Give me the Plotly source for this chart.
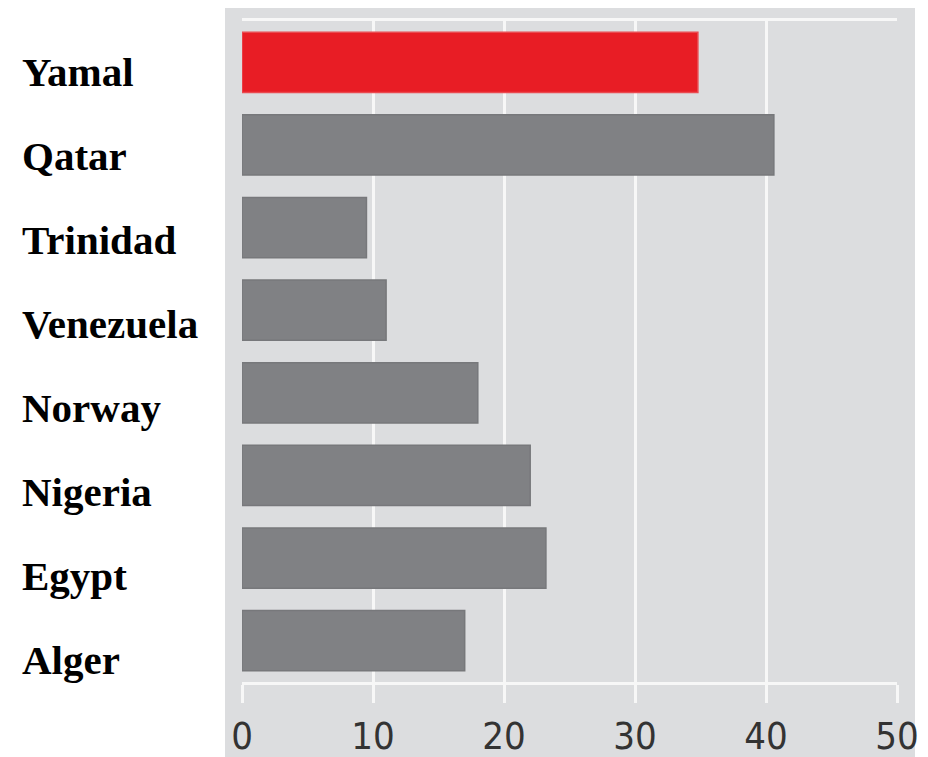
import plotly.graph_objects as go

countries = ["Yamal", "Qatar", "Trinidad", "Venezuela", "Norway", "Nigeria", "Egypt", "Alger"]
values = [34.8, 40.6, 9.5, 11.0, 18.0, 22.0, 23.2, 17.0]
bar_colors = ["#E81D25", "#808184", "#808184", "#808184", "#808184", "#808184", "#808184", "#808184"]
edge_colors = ["#EA4A50", "#77787B", "#77787B", "#77787B", "#77787B", "#77787B", "#77787B", "#77787B"]
tick_vals = [0, 10, 20, 30, 40, 50]

# page body has an 8px default margin; figure sized/offset to compensate
OFF = 8
W, H = 928 - OFF, 757 - OFF
ml = 242 - OFF
mr = W - (897 - OFF)
mt = 21 - OFF
mb = H - (682 - OFF)
pw, ph = W - ml - mr, H - mt - mb

fig = go.Figure()
fig.add_trace(go.Bar(
    x=values, y=countries, orientation="h",
    marker=dict(color=bar_colors, line=dict(color=edge_colors, width=1.5)),
    width=0.73, hoverinfo="skip",
))

for i, c in enumerate(countries):
    fig.add_annotation(
        x=(20 - OFF - ml) / pw, xref="paper", y=c, yref="y",
        text=c, showarrow=False, xanchor="left", yanchor="middle",
        yshift=-(10 + 1.3 * i),
        font=dict(family="Liberation Serif, Times New Roman, serif", size=41,
                  color="#000000", weight="bold"),
    )

fig.add_shape(
    type="rect", xref="paper", yref="paper", layer="below",
    x0=(225 - OFF - ml) / pw, x1=(915 - OFF - ml) / pw,
    y0=(mt + ph - H - 10) / ph, y1=(mt + ph - (7 - OFF)) / ph,
    fillcolor="#DCDDDF", line=dict(width=0),
)

fig.update_layout(
    width=W, height=H,
    margin=dict(l=ml, r=mr, t=mt, b=mb, autoexpand=False),
    paper_bgcolor="#FFFFFF", plot_bgcolor="#DCDDDF",
    showlegend=False,
    xaxis=dict(
        range=[0, 50], tickvals=tick_vals, ticktext=[str(v) for v in tick_vals],
        showgrid=True, gridcolor="#F7F7F7", gridwidth=3, zeroline=False,
        showline=True, linecolor="#F7F7F7", linewidth=3, mirror=True,
        ticks="outside", ticklen=18, tickwidth=3, tickcolor="#F7F7F7",
        ticklabelstandoff=0, automargin=False,
        tickfont=dict(family="DejaVu Sans Condensed, sans-serif", size=38, color="#333333"),
        fixedrange=True,
    ),
    yaxis=dict(
        categoryorder="array", categoryarray=countries, autorange="reversed",
        showticklabels=False, showgrid=False, zeroline=False, showline=False, ticks="",
        automargin=False, fixedrange=True,
    ),
)

fig.write_html("out.html")
